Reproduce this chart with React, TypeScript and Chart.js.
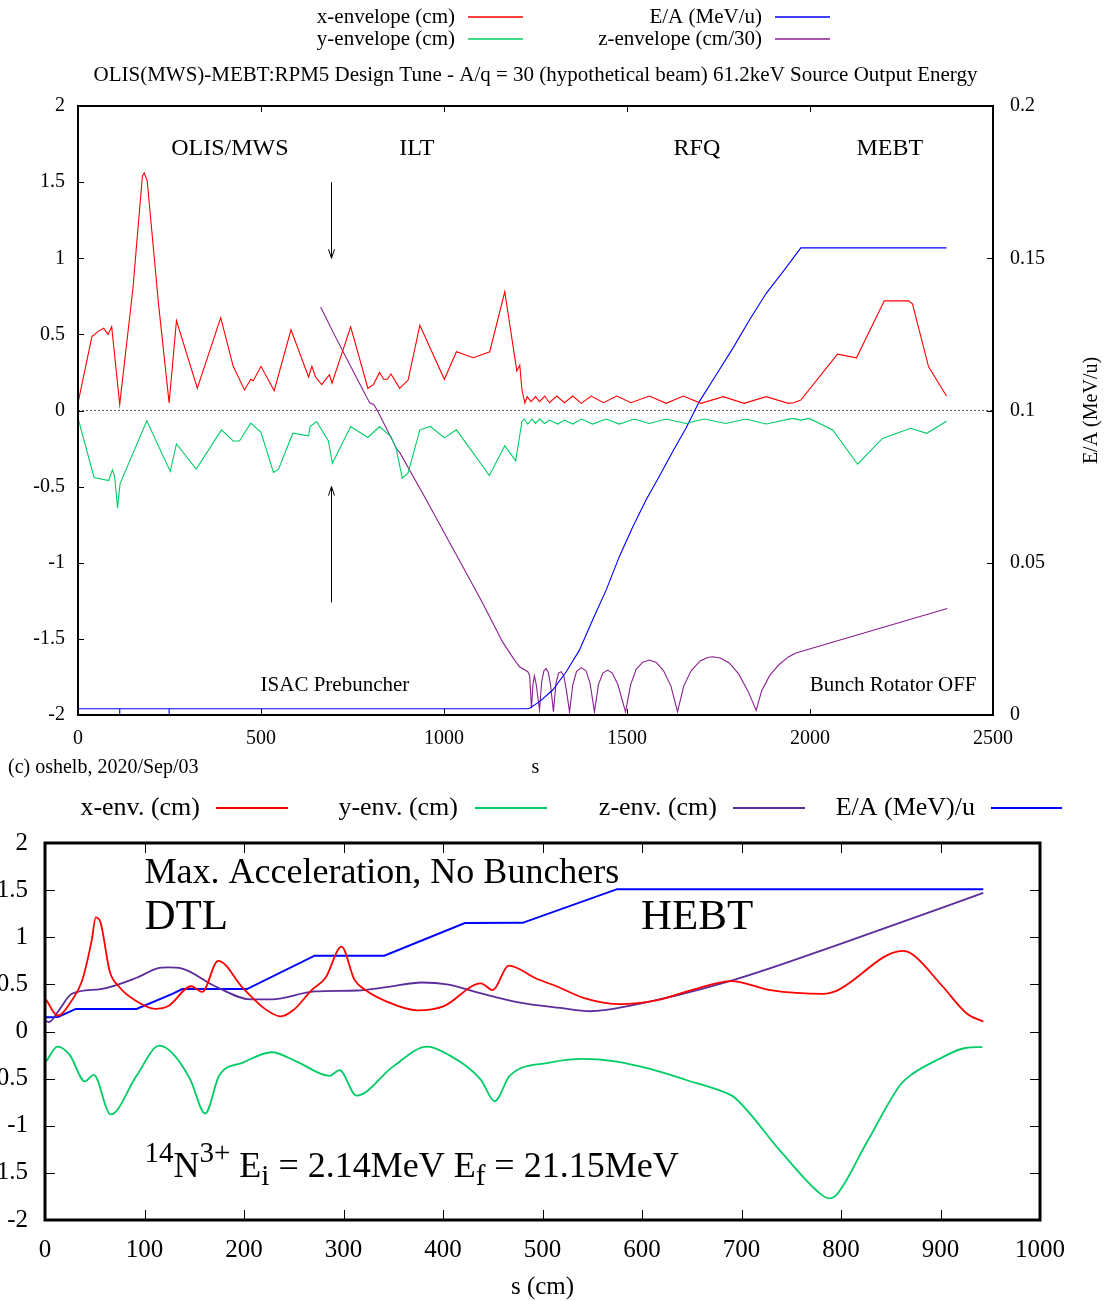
import React, { useEffect, useRef } from "react";
import { Chart, registerables } from "chart.js";

Chart.register(...registerables);

const SERIF = "'Liberation Serif', 'DejaVu Serif', serif";
type P = [number, number];

// ================= TOP PANEL DATA =================
const TOP_X_TICKS = [0, 500, 1000, 1500, 2000, 2500];
const TOP_Y_TICKS = [-2, -1.5, -1, -0.5, 0, 0.5, 1, 1.5, 2];
const TOP_Y2_TICKS = [0, 0.05, 0.1, 0.15, 0.2];

const TOP_LABELS = ["x-envelope (cm)", "y-envelope (cm)", "E/A (MeV/u)", "z-envelope (cm/30)"];
const TOP_TITLE = "OLIS(MWS)-MEBT:RPM5 Design Tune - A/q = 30 (hypothetical beam) 61.2keV Source Output Energy";

const TOP_X_ENV: P[] = [
  [0, 0.05], [38, 0.485], [55, 0.52], [70, 0.54], [82, 0.5], [92, 0.55], [114, 0.04], [150, 0.8],
  [176, 1.54], [181, 1.56], [189, 1.51], [220, 0.7], [249, 0.05], [269, 0.59], [326, 0.146],
  [390, 0.61], [424, 0.29], [455, 0.135], [472, 0.205], [479, 0.195], [500, 0.29], [536, 0.13],
  [582, 0.53], [630, 0.22], [639, 0.29], [649, 0.22], [666, 0.17], [687, 0.235], [694, 0.18],
  [745, 0.55], [792, 0.146], [807, 0.17], [824, 0.25], [835, 0.205], [845, 0.205], [855, 0.24],
  [879, 0.146], [902, 0.2], [934, 0.56], [1001, 0.205], [1034, 0.386], [1080, 0.347],
  [1125, 0.386], [1166, 0.78], [1199, 0.26], [1207, 0.297], [1213, 0.135], [1221, 0.048],
  [1227, 0.091], [1238, 0.058], [1250, 0.091], [1261, 0.058], [1275, 0.095], [1288, 0.051],
  [1308, 0.095], [1329, 0.051], [1352, 0.095], [1375, 0.047], [1402, 0.095], [1436, 0.051],
  [1472, 0.095], [1511, 0.051], [1561, 0.095], [1607, 0.047], [1654, 0.095], [1702, 0.047],
  [1763, 0.091], [1820, 0.047], [1880, 0.091], [1941, 0.047], [1955, 0.051], [1975, 0.069],
  [2075, 0.37], [2127, 0.346], [2203, 0.72], [2269, 0.72], [2280, 0.7], [2324, 0.287], [2373, 0.095],
];

const TOP_Y_ENV: P[] = [
  [0, -0.05], [44, -0.44], [84, -0.46], [94, -0.39], [100, -0.43], [108, -0.64], [115, -0.48],
  [188, -0.068], [252, -0.4], [269, -0.22], [323, -0.385], [392, -0.127], [424, -0.2], [441, -0.2],
  [472, -0.083], [500, -0.144], [534, -0.407], [548, -0.385], [587, -0.149], [630, -0.166],
  [634, -0.105], [652, -0.072], [684, -0.2], [695, -0.346], [745, -0.105], [792, -0.177],
  [824, -0.105], [855, -0.171], [869, -0.247], [886, -0.444], [902, -0.41], [934, -0.127],
  [963, -0.105], [1001, -0.18], [1034, -0.127], [1124, -0.427], [1166, -0.232], [1196, -0.33],
  [1213, -0.07], [1219, -0.056], [1229, -0.089], [1240, -0.056], [1250, -0.085], [1261, -0.056],
  [1275, -0.085], [1288, -0.063], [1311, -0.089], [1329, -0.063], [1352, -0.089], [1375, -0.056],
  [1406, -0.089], [1443, -0.056], [1479, -0.089], [1520, -0.056], [1561, -0.085], [1607, -0.056],
  [1661, -0.085], [1711, -0.056], [1770, -0.085], [1825, -0.056], [1880, -0.089], [1952, -0.052],
  [1975, -0.063], [1998, -0.052], [2062, -0.128], [2130, -0.353], [2198, -0.183], [2275, -0.117],
  [2319, -0.15], [2373, -0.071],
];

const TOP_EA: P[] = [
  [0, 0.00204], [114, 0.00204], [114, 0], [114, 0.00204], [249, 0.00204], [249, 0], [249, 0.00204],
  [1227, 0.00204], [1234, 0.0022], [1261, 0.0044], [1297, 0.0082], [1334, 0.0142], [1370, 0.0213],
  [1406, 0.0312], [1443, 0.041], [1479, 0.052], [1516, 0.0618], [1552, 0.0706], [1588, 0.0783],
  [1625, 0.0865], [1661, 0.0942], [1698, 0.103], [1740, 0.111], [1789, 0.1204], [1835, 0.1298],
  [1880, 0.1384], [1930, 0.1462], [1975, 0.1534], [2373, 0.1534],
];

const TOP_Z_ENV: P[] = [
  [663, 0.68], [700, 0.5], [760, 0.22], [797, 0.05], [808, 0.04], [818, 0.0], [860, -0.2],
  [870, -0.25], [880, -0.28], [950, -0.58], [1000, -0.8], [1050, -1.02], [1100, -1.24],
  [1130, -1.38], [1160, -1.52], [1190, -1.63], [1206, -1.683], [1229, -1.716], [1234, -1.74],
  [1239, -1.956], [1243, -1.8], [1247, -1.744], [1252, -1.8], [1261, -1.967], [1267, -1.78],
  [1273, -1.71], [1279, -1.694], [1285, -1.72], [1291, -1.8], [1299, -1.978], [1306, -1.79],
  [1313, -1.725], [1320, -1.716], [1327, -1.74], [1334, -1.83], [1343, -1.98], [1352, -1.8],
  [1362, -1.715], [1375, -1.689], [1388, -1.71], [1399, -1.79], [1411, -1.98], [1422, -1.8],
  [1434, -1.725], [1447, -1.705], [1460, -1.725], [1475, -1.8], [1496, -1.98], [1510, -1.8],
  [1525, -1.7], [1543, -1.653], [1561, -1.639], [1580, -1.655], [1600, -1.71], [1620, -1.81],
  [1638, -1.978], [1655, -1.81], [1675, -1.71], [1700, -1.645], [1720, -1.622], [1734, -1.617],
  [1755, -1.625], [1780, -1.66], [1805, -1.73], [1830, -1.84], [1853, -1.97], [1868, -1.84],
  [1890, -1.74], [1915, -1.67], [1940, -1.62], [1960, -1.595], [1973, -1.585], [2375, -1.3],
];

const TOP_ZERO: P[] = [[0, 0], [2500, 0]];

const TOP_NOTES = [
  { text: "OLIS/MWS", s: 415, v: 1.717, size: 24 },
  { text: "ILT", s: 926, v: 1.717, size: 24 },
  { text: "RFQ", s: 1691, v: 1.717, size: 24 },
  { text: "MEBT", s: 2218, v: 1.717, size: 24 },
  { text: "ISAC Prebuncher", s: 702, v: -1.803, size: 21 },
  { text: "Bunch Rotator OFF", s: 2227, v: -1.803, size: 21 },
];
const TOP_ARROWS = [
  { s: 690, from: 1.5, to: 1.0 },
  { s: 690, from: -1.26, to: -0.5 },
];

// ================= BOTTOM PANEL DATA =================
const BOT_X_TICKS = [0, 100, 200, 300, 400, 500, 600, 700, 800, 900, 1000];
const BOT_Y_TICKS = [-2, -1.5, -1, -0.5, 0, 0.5, 1, 1.5, 2];
const BOT_LABELS = ["x-env. (cm)", "y-env. (cm)", "z-env. (cm)", "E/A (MeV)/u"];

const BOT_X_ENV: P[] = [
  [1, 0.34], [12.6, 0.17], [16, 0.18], [25, 0.3], [37, 0.53], [47, 0.97], [51, 1.21], [56, 1.15],
  [65, 0.64], [74, 0.48], [92, 0.32], [111, 0.24], [124, 0.27], [147, 0.48], [158, 0.42],
  [174, 0.75], [199, 0.46], [221, 0.24], [237, 0.16], [250, 0.23], [268, 0.44], [282, 0.57],
  [298, 0.9], [311, 0.55], [322, 0.44], [343, 0.32], [374, 0.225], [401, 0.27], [438, 0.51],
  [450, 0.44], [466, 0.7], [494, 0.56], [514, 0.48], [542, 0.355], [578, 0.29], [614, 0.33],
  [650, 0.44], [690, 0.535], [729, 0.44], [783, 0.4], [794, 0.425], [862, 0.855], [873, 0.81],
  [902, 0.48], [927, 0.186], [943, 0.105],
];

const BOT_Y_ENV: P[] = [
  [1, -0.32], [12.6, -0.16], [25, -0.25], [40, -0.53], [49, -0.46], [66, -0.88], [92, -0.47],
  [115, -0.15], [128, -0.23], [146, -0.51], [161, -0.87], [175, -0.47], [199, -0.33],
  [228, -0.22], [253, -0.32], [286, -0.47], [296, -0.41], [313, -0.68], [350, -0.37],
  [384, -0.16], [406, -0.25], [438, -0.51], [452, -0.74], [467, -0.47], [507, -0.33],
  [541, -0.29], [571, -0.315], [609, -0.4], [646, -0.52], [684, -0.65], [693, -0.7],
  [740, -1.28], [779, -1.72], [788, -1.77], [794, -1.75], [826, -1.175], [860, -0.56],
  [871, -0.456], [897, -0.3], [925, -0.175], [942, -0.165],
];

const BOT_Z_ENV: P[] = [
  [1, 0.11], [4, 0.1], [13, 0.21], [27, 0.4], [56, 0.45], [92, 0.57], [113, 0.67], [124, 0.68],
  [137, 0.67], [171, 0.48], [207, 0.34], [228, 0.34], [271, 0.425], [314, 0.435], [343, 0.47],
  [379, 0.52], [404, 0.5], [440, 0.4], [476, 0.31], [518, 0.25], [548, 0.215], [586, 0.27],
  [690, 0.54], [801, 0.935], [943, 1.47],
];

const BOT_EA: P[] = [
  [0, 0.15], [13, 0.155], [31, 0.24], [92, 0.24], [128, 0.4], [138, 0.45], [203, 0.45],
  [271, 0.805], [341, 0.805], [422, 1.15], [480, 1.153], [575, 1.51], [943, 1.51],
];

const BOT_NOTES = [
  { text: "Max. Acceleration, No Bunchers", s: 100, v: 1.671, size: 36 },
  { text: "DTL", s: 100, v: 1.205, size: 43 },
  { text: "HEBT", s: 599, v: 1.205, size: 43 },
];
const BOT_FORMULA_POS = { s: 100, v: -1.42 };

// ================= helpers =================
const xy = (pts: P[]) => pts.map(([x, y]) => ({ x, y }));
const font = (n: number) => `${n}px ${SERIF}`;

function text(ctx: CanvasRenderingContext2D, t: string, x: number, y: number, size: number,
  align: CanvasTextAlign = "left", baseline: CanvasTextBaseline = "middle") {
  ctx.font = font(size);
  ctx.fillStyle = "#000";
  ctx.textAlign = align;
  ctx.textBaseline = baseline;
  ctx.fillText(t, x, y);
}

function frameAndTicks(chart: any, lw: number, len: number, xId: string, yId: string, y2Id: string | null) {
  const { ctx, chartArea: a } = chart;
  const xs = chart.scales[xId];
  const ys = chart.scales[yId];
  const rs = y2Id ? chart.scales[y2Id] : ys;
  ctx.save();
  ctx.strokeStyle = "#000";
  ctx.lineWidth = 1;
  ctx.beginPath();
  xs.ticks.forEach((t: any) => {
    const p = Math.round(xs.getPixelForValue(t.value)) + 0.5;
    ctx.moveTo(p, a.bottom); ctx.lineTo(p, a.bottom - len);
    ctx.moveTo(p, a.top); ctx.lineTo(p, a.top + len);
  });
  ys.ticks.forEach((t: any) => {
    const p = Math.round(ys.getPixelForValue(t.value)) + 0.5;
    ctx.moveTo(a.left, p); ctx.lineTo(a.left + len, p);
  });
  rs.ticks.forEach((t: any) => {
    const p = Math.round(rs.getPixelForValue(t.value)) + 0.5;
    ctx.moveTo(a.right, p); ctx.lineTo(a.right - len, p);
  });
  ctx.stroke();
  ctx.lineWidth = lw;
  ctx.strokeRect(a.left, a.top, a.right - a.left, a.bottom - a.top);
  ctx.restore();
}

function legend(chart: any, items: { ds: number; right: number; y: number; l1: number; l2: number }[],
  size: number, lw: number) {
  const { ctx } = chart;
  items.forEach((it) => {
    const ds = chart.data.datasets[it.ds];
    text(ctx, ds.label, it.right, it.y, size, "right");
    ctx.save();
    ctx.setLineDash([]);
    ctx.strokeStyle = String(ds.borderColor);
    ctx.lineWidth = lw;
    ctx.beginPath();
    ctx.moveTo(it.l1, it.y);
    ctx.lineTo(it.l2, it.y);
    ctx.stroke();
    ctx.restore();
  });
}

const topPlugin = {
  id: "topDecor",
  afterDraw(chart: any) {
    const { ctx, chartArea: a } = chart;
    const xs = chart.scales.x;
    const ys = chart.scales.y;
    frameAndTicks(chart, 2, 6, "x", "y", "y1");
    legend(chart, [
      { ds: 0, right: 455, y: 17, l1: 468, l2: 523 },
      { ds: 1, right: 455, y: 39, l1: 468, l2: 523 },
      { ds: 2, right: 762, y: 17, l1: 775, l2: 830 },
      { ds: 3, right: 762, y: 39, l1: 775, l2: 830 },
    ], 21, 1.4);
    const cx = (a.left + a.right) / 2;
    text(ctx, TOP_TITLE, cx, 75, 21, "center");
    text(ctx, "s", cx, 768, 20, "center");
    text(ctx, "(c) oshelb, 2020/Sep/03", 8, 768, 20, "left");
    ctx.save();
    ctx.translate(1092, (a.top + a.bottom) / 2);
    ctx.rotate(-Math.PI / 2);
    text(ctx, "E/A (MeV/u)", 0, 0, 20, "center");
    ctx.restore();
    TOP_NOTES.forEach((n) => text(ctx, n.text, xs.getPixelForValue(n.s), ys.getPixelForValue(n.v), n.size, "center"));
    ctx.save();
    ctx.strokeStyle = "#000";
    ctx.lineWidth = 1;
    TOP_ARROWS.forEach((ar) => {
      const x = Math.round(xs.getPixelForValue(ar.s)) + 0.5;
      const y0 = ys.getPixelForValue(ar.from);
      const y1 = ys.getPixelForValue(ar.to);
      const dir = y1 > y0 ? 1 : -1;
      ctx.beginPath();
      ctx.moveTo(x, y0); ctx.lineTo(x, y1);
      ctx.moveTo(x - 3, y1 - dir * 9); ctx.lineTo(x, y1); ctx.lineTo(x + 3, y1 - dir * 9);
      ctx.stroke();
    });
    ctx.restore();
  },
};

const botPlugin = {
  id: "botDecor",
  afterDraw(chart: any) {
    const { ctx, chartArea: a } = chart;
    const xs = chart.scales.x;
    const ys = chart.scales.y;
    frameAndTicks(chart, 3, 10, "x", "y", null);
    legend(chart, [
      { ds: 0, right: 200, y: 18, l1: 216, l2: 288 },
      { ds: 1, right: 458, y: 18, l1: 475, l2: 547 },
      { ds: 2, right: 717, y: 18, l1: 733, l2: 805 },
      { ds: 3, right: 975, y: 18, l1: 991, l2: 1062 },
    ], 26, 1.8);
    text(ctx, "s (cm)", (a.left + a.right) / 2, 497, 25, "center");
    BOT_NOTES.forEach((n) => text(ctx, n.text, xs.getPixelForValue(n.s), ys.getPixelForValue(n.v), n.size, "left"));
    // formula with super/subscripts
    let x = xs.getPixelForValue(BOT_FORMULA_POS.s);
    const yb = ys.getPixelForValue(BOT_FORMULA_POS.v) + 12;
    const main = 36;
    const small = 29;
    const parts: [string, number, number][] = [
      ["14", small, -15], ["N", main, 0], ["3+", small, -15], [" E", main, 0], ["i", small, 8],
      [" = 2.14MeV E", main, 0], ["f", small, 8], [" = 21.15MeV", main, 0],
    ];
    ctx.fillStyle = "#000";
    ctx.textAlign = "left";
    ctx.textBaseline = "alphabetic";
    parts.forEach(([t, sz, dy]) => {
      ctx.font = font(sz);
      ctx.fillText(t, x, yb + dy);
      x += ctx.measureText(t).width;
    });
  },
};

function axisBase(ticks: number[], size: number, padding: number, fit: (s: any) => void, extra: any = {}) {
  return {
    type: "linear",
    min: ticks[0],
    max: ticks[ticks.length - 1],
    afterBuildTicks: (s: any) => { s.ticks = ticks.map((value) => ({ value })); },
    afterFit: fit,
    grid: { display: false, drawTicks: false },
    border: { display: false },
    ticks: {
      color: "#000",
      font: { family: SERIF, size },
      padding,
      autoSkip: false,
      maxRotation: 0,
      callback: (v: number) => String(v),
    },
    ...extra,
  };
}

const line = (label: string, data: P[], color: string, width: number, yAxisID = "y", extra: any = {}) => ({
  label, data: xy(data), borderColor: color, backgroundColor: color, borderWidth: width,
  pointRadius: 0, tension: 0, fill: false, yAxisID, ...extra,
});

export default function App() {
  const topRef = useRef<HTMLCanvasElement>(null);
  const botRef = useRef<HTMLCanvasElement>(null);

  useEffect(() => {
    document.body.style.margin = "0";
    const common = {
      animation: false,
      responsive: false,
      events: [],
      plugins: { legend: { display: false }, tooltip: { enabled: false }, title: { display: false } },
    };
    const top = new Chart(topRef.current!, {
      type: "line",
      data: {
        datasets: [
          line(TOP_LABELS[0], TOP_X_ENV, "#ff0000", 1.1),
          line(TOP_LABELS[1], TOP_Y_ENV, "#00cc66", 1.1),
          line(TOP_LABELS[2], TOP_EA, "#0000ff", 1.1, "y1"),
          line(TOP_LABELS[3], TOP_Z_ENV, "#8a1f8f", 1.1),
          line("", TOP_ZERO, "#555555", 1, "y", { borderDash: [2, 2] }),
        ],
      },
      options: {
        ...common,
        layout: { padding: { top: 106, left: 0, right: 0, bottom: 0 } },
        scales: {
          x: axisBase(TOP_X_TICKS, 20, 12, (s: any) => { s.height = 75; }, { position: "bottom" }),
          y: axisBase(TOP_Y_TICKS, 20, 13, (s: any) => { s.width = 78; }, { position: "left" }),
          y1: axisBase(TOP_Y2_TICKS, 20, 17, (s: any) => { s.width = 111; }, { position: "right" }),
        },
      } as any,
      plugins: [topPlugin],
    } as any);

    const smooth = { cubicInterpolationMode: "monotone" };
    const bot = new Chart(botRef.current!, {
      type: "line",
      data: {
        datasets: [
          line(BOT_LABELS[0], BOT_X_ENV, "#ff0000", 1.8, "y", smooth),
          line(BOT_LABELS[1], BOT_Y_ENV, "#00cc66", 1.8, "y", smooth),
          line(BOT_LABELS[2], BOT_Z_ENV, "#5b2d9c", 1.8, "y", smooth),
          line(BOT_LABELS[3], BOT_EA, "#0000ff", 2),
        ],
      },
      options: {
        ...common,
        layout: { padding: { top: 53, left: 0, right: 64, bottom: 0 } },
        scales: {
          x: axisBase(BOT_X_TICKS, 25, 15, (s: any) => { s.height = 81; }, { position: "bottom" }),
          y: axisBase(BOT_Y_TICKS, 25, 17, (s: any) => { s.width = 45; }, { position: "left" }),
        },
      } as any,
      plugins: [botPlugin],
    } as any);

    return () => { top.destroy(); bot.destroy(); };
  }, []);

  return (
    <div style={{ position: "absolute", left: 0, top: 0, width: 1104, height: 1301, background: "#fff" }}>
      <canvas ref={topRef} width={1104} height={790}
        style={{ position: "absolute", left: 0, top: 0, width: 1104, height: 790 }} />
      <canvas ref={botRef} width={1104} height={511}
        style={{ position: "absolute", left: 0, top: 790, width: 1104, height: 511 }} />
    </div>
  );
}
